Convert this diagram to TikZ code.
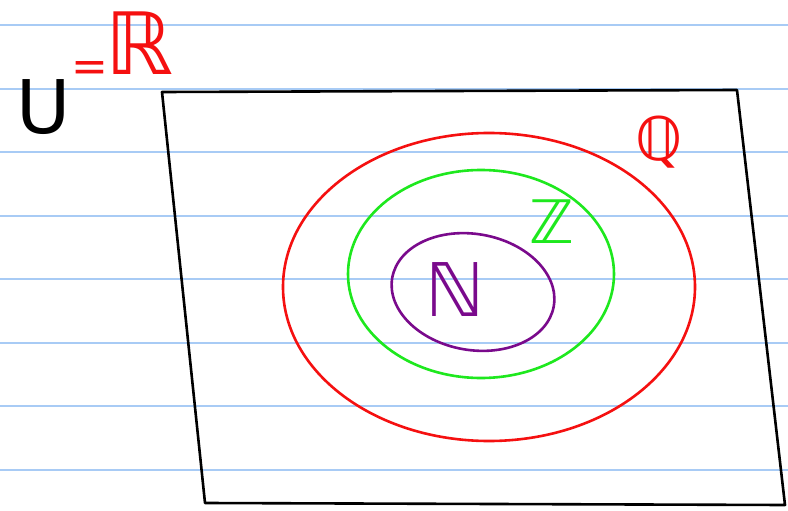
\documentclass[tikz,border=0pt]{standalone}
\usepackage{fontspec}
\newfontfamily\setfont{DejaVu Sans}
\usetikzlibrary{shapes.geometric}
\definecolor{ruleblue}{HTML}{A8CBF5}
\definecolor{setred}{HTML}{F51010}
\definecolor{setgreen}{HTML}{1EE81E}
\definecolor{setpurple}{HTML}{7A0A8C}

\begin{document}
\begin{tikzpicture}[
  x=1pt, y=-1pt,
  font=\setfont,
  setline/.style={draw, ellipse, line width=2.6pt, inner sep=0pt},
  rule/.style={ruleblue, line width=1.2pt},
  lbl/.style={inner sep=0pt}
]
\useasboundingbox (0,0) rectangle (788,511);
\fill[white] (0,0) rectangle (788,511);
% ruled paper
\foreach \ry in {25,89,152,216,279,343,406,470}
  \draw[rule] (0,\ry) -- (788,\ry);
% universe
\draw[line width=2.6pt, line join=round] (162,92) -- (737,90) -- (785,505) -- (205,503) -- (200,455) -- cycle;
% nested sets
\node[setline, setred, minimum width=412pt, minimum height=308pt] (q) at (489,287) {};
\node[setline, setgreen, minimum width=266pt, minimum height=208pt] (z) at (481,274) {};
\node[setline, setpurple, minimum width=164pt, minimum height=116pt, rotate=-10] (n) at (473,292) {};
% labels
\node[lbl, setpurple, font=\setfont\fontsize{74}{76}\selectfont] (nl) at (455,290) {ℕ};
\node[lbl, setgreen, font=\setfont\fontsize{60}{62}\selectfont] (zl) at (552,222) {ℤ};
\node[lbl, setred, font=\setfont\fontsize{60}{62}\selectfont] (ql) at (659,142) {ℚ};
\node[lbl, font=\setfont\fontsize{74}{76}\selectfont] (ul) at (44,107) {U};
\node[lbl, setred, font=\setfont\fontsize{44}{46}\selectfont] (eq) at (90,72) {=};
\node[lbl, setred, font=\setfont\fontsize{86}{88}\selectfont] (rl) at (140,43) {ℝ};
\end{tikzpicture}
\end{document}
